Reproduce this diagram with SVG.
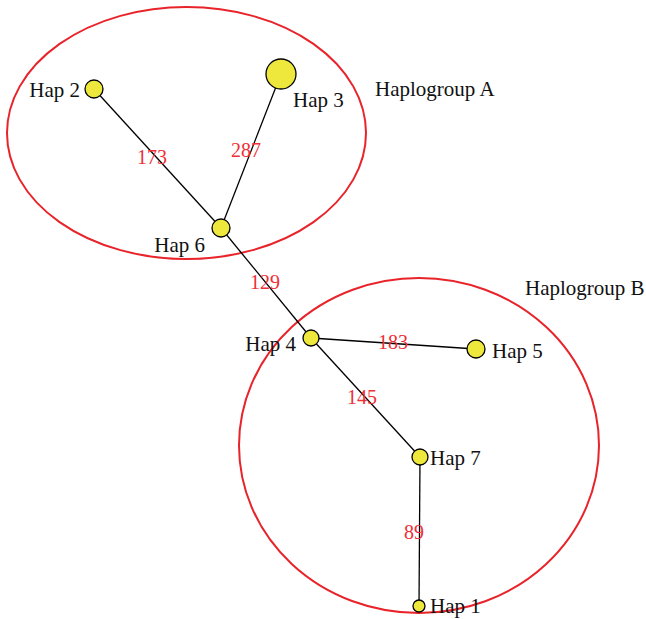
<svg xmlns="http://www.w3.org/2000/svg" width="646" height="619" viewBox="0 0 646 619">
<style>
.grp{fill:none;stroke:#e8232a;stroke-width:2}
.edge{stroke:#000;stroke-width:1.3}
.node{fill:#eee83c;stroke:#000;stroke-width:1.3}
.lbl{font-family:"Liberation Serif",serif;font-size:21px;fill:#111}
.w{font-family:"Liberation Serif",serif;font-size:20px;fill:#ee3038;text-anchor:middle}
</style>
<rect width="646" height="619" fill="#fff"/>
<g id="groups">
<ellipse class="grp" cx="186.5" cy="133" rx="179.5" ry="126"/>
<ellipse class="grp" cx="419" cy="445.5" rx="180" ry="167.5"/>
<text class="lbl" x="375" y="96">Haplogroup A</text>
<text class="lbl" x="525" y="295">Haplogroup B</text>
</g>
<g id="connectors">
<line class="edge" x1="94" y1="89" x2="221" y2="228"/>
<line class="edge" x1="281" y1="74" x2="221" y2="228"/>
<line class="edge" x1="221" y1="228" x2="311" y2="338"/>
<line class="edge" x1="311" y1="338" x2="476" y2="349"/>
<line class="edge" x1="311" y1="338" x2="420" y2="457"/>
<line class="edge" x1="420" y1="457" x2="419" y2="606"/>
<text class="w" x="152" y="164">173</text>
<text class="w" x="246" y="157">287</text>
<text class="w" x="265" y="289">129</text>
<text class="w" x="393" y="349">183</text>
<text class="w" x="362" y="404">145</text>
<text class="w" x="414" y="539">89</text>
</g>
<g id="hap2"><circle class="node" cx="94" cy="89" r="9"/><text class="lbl" x="80" y="97" text-anchor="end">Hap 2</text></g>
<g id="hap3"><circle class="node" cx="281" cy="74" r="15"/><text class="lbl" x="293" y="107">Hap 3</text></g>
<g id="hap6"><circle class="node" cx="221" cy="228" r="9"/><text class="lbl" x="205" y="252" text-anchor="end">Hap 6</text></g>
<g id="hap4"><circle class="node" cx="311" cy="338" r="8"/><text class="lbl" x="296" y="351" text-anchor="end">Hap 4</text></g>
<g id="hap5"><circle class="node" cx="476" cy="349" r="9"/><text class="lbl" x="492" y="358">Hap 5</text></g>
<g id="hap7"><circle class="node" cx="420" cy="457" r="8"/><text class="lbl" x="430" y="465">Hap 7</text></g>
<g id="hap1"><circle class="node" cx="419" cy="606" r="6"/><text class="lbl" x="430" y="613">Hap 1</text></g>
</svg>
